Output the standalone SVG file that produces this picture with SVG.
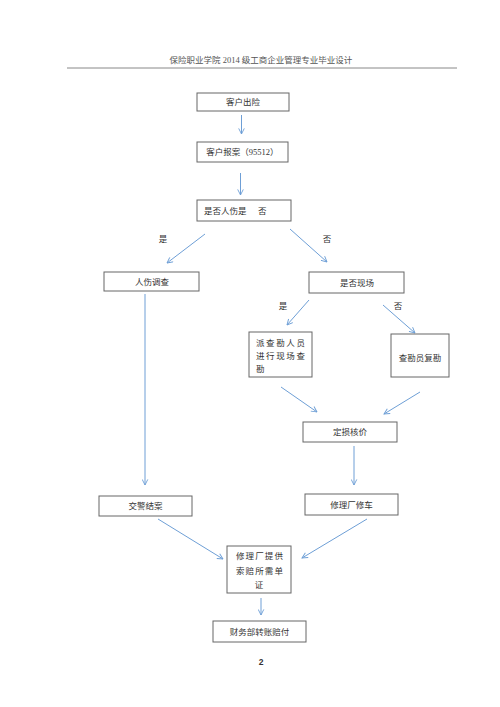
<svg xmlns="http://www.w3.org/2000/svg" width="500" height="707" viewBox="0 0 500 707">
<defs>
<style>
.box{fill:#fff;stroke:#666;stroke-width:1}
.t{font-family:"Liberation Serif","Noto Sans CJK SC",serif;font-size:8.5px;fill:#333}
.c{text-anchor:middle}
.hd{font-family:"Liberation Serif","Noto Sans CJK SC",serif;font-size:8.5px;fill:#555;text-anchor:middle}
.ln{stroke:#6e9fd6;stroke-width:1;fill:none;marker-end:url(#ah)}
</style>
<marker id="ah" viewBox="0 0 10 10" refX="9" refY="5" markerWidth="7" markerHeight="7" orient="auto" markerUnits="userSpaceOnUse">
<path d="M1,1 L9,5 L1,9" fill="none" stroke="#6e9fd6" stroke-width="1.3"/>
</marker>
</defs>
<rect width="500" height="707" fill="#fff"/>
<g id="header">
<text class="hd" x="261" y="63">保险职业学院 2014 级工商企业管理专业毕业设计</text>
<line x1="67" y1="68" x2="457" y2="68" stroke="#888" stroke-width="1"/>
</g>
<g id="connectors">
<line class="ln" x1="241.5" y1="115" x2="241.5" y2="134"/>
<line class="ln" x1="240.5" y1="173" x2="240.5" y2="195"/>
<line class="ln" x1="205" y1="234" x2="167" y2="263"/>
<line class="ln" x1="290" y1="229" x2="327" y2="262"/>
<line class="ln" x1="309" y1="300" x2="287" y2="325"/>
<line class="ln" x1="383" y1="305" x2="415" y2="333"/>
<line class="ln" x1="281" y1="387" x2="317" y2="412"/>
<line class="ln" x1="420" y1="392" x2="384" y2="414"/>
<line class="ln" x1="145" y1="294" x2="145" y2="485"/>
<line class="ln" x1="354" y1="446" x2="354" y2="485"/>
<line class="ln" x1="158" y1="519" x2="223" y2="559"/>
<line class="ln" x1="367" y1="519" x2="302" y2="558"/>
<line class="ln" x1="261" y1="598" x2="261" y2="615"/>
<text class="t" x="163" y="242" text-anchor="middle">是</text>
<text class="t" x="327" y="242" text-anchor="middle">否</text>
<text class="t" x="283" y="309" text-anchor="middle">是</text>
<text class="t" x="398" y="309" text-anchor="middle">否</text>
</g>
<g id="n1">
<rect class="box" x="197" y="93" width="92" height="18"/>
<text class="t c" x="243" y="105">客户出险</text>
</g>
<g id="n2">
<rect class="box" x="197" y="142" width="91" height="20"/>
<text class="t c" x="242.5" y="155">客户报案（95512）</text>
</g>
<g id="n3">
<rect class="box" x="197" y="200" width="94" height="21"/>
<text class="t" x="204" y="213.5">是否人伤是<tspan x="258">否</tspan></text>
</g>
<g id="n4">
<rect class="box" x="104" y="272" width="95" height="19"/>
<text class="t c" x="152" y="284.5">人伤调查</text>
</g>
<g id="n5">
<rect class="box" x="309" y="272" width="95" height="21"/>
<text class="t c" x="357" y="285.5">是否现场</text>
</g>
<g id="n6">
<rect class="box" x="249" y="332" width="63" height="45"/>
<text class="t" x="256" y="346" textLength="49" lengthAdjust="spacing">派查勘人员</text>
<text class="t" x="256" y="359" textLength="49" lengthAdjust="spacing">进行现场查</text>
<text class="t" x="256" y="372">勘</text>
</g>
<g id="n7">
<rect class="box" x="391" y="334" width="58" height="43"/>
<text class="t c" x="420" y="361">查勘员复勘</text>
</g>
<g id="n8">
<rect class="box" x="303" y="422" width="94" height="20"/>
<text class="t c" x="350" y="435">定损核价</text>
</g>
<g id="n9">
<rect class="box" x="99" y="496" width="93" height="20"/>
<text class="t c" x="145.5" y="509">交警结案</text>
</g>
<g id="n10">
<rect class="box" x="305" y="494" width="93" height="21"/>
<text class="t c" x="351.5" y="507.5">修理厂修车</text>
</g>
<g id="n11">
<rect class="box" x="227" y="546" width="64" height="47"/>
<text class="t" x="236" y="559" textLength="47" lengthAdjust="spacing">修理厂提供</text>
<text class="t" x="236" y="574" textLength="47" lengthAdjust="spacing">索赔所需单</text>
<text class="t c" x="259" y="588">证</text>
</g>
<g id="n12">
<rect class="box" x="213" y="621" width="93" height="21"/>
<text class="t c" x="259.5" y="634.5">财务部转账赔付</text>
</g>
<g id="page">
<text x="261" y="665" font-family="Liberation Sans,Noto Sans,sans-serif" font-size="8.5" font-weight="bold" fill="#333" text-anchor="middle">2</text>
</g>
</svg>
